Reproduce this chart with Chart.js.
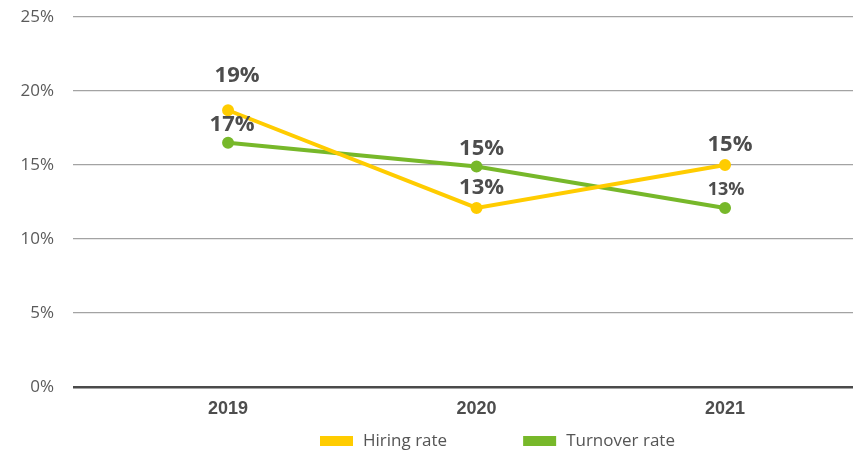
<!DOCTYPE html>
<html>
<head>
<meta charset="utf-8">
<script src="https://cdn.jsdelivr.net/npm/chart.js@4.4.1/dist/chart.umd.min.js"></script>
<style>
  html, body { margin: 0; padding: 0; background: #fff; }
</style>
</head>
<body>
<canvas id="rateChart" width="861" height="451"></canvas>
<script>
// values
const years = [2019, 2020, 2021];
const hiringRate = [18.7, 12.1, 15.0];
const turnoverRate = [16.5, 14.9, 12.1];
const hiringLabels = ['19%', '13%', '15%'];
const turnoverLabels = ['17%', '15%', '13%'];
const yTicks = [0, 5, 10, 15, 20, 25];

const TEXT = '#4d4d4d';

// value labels above each point
const pointLabels = {
    id: 'pointLabels',
    afterDatasetsDraw(chart) {
        const ctx = chart.ctx;
        ctx.save();
        ctx.fillStyle = TEXT;
        ctx.textAlign = 'center';
        ctx.textBaseline = 'middle';
        chart.data.datasets.forEach((ds, di) => {
            chart.getDatasetMeta(di).data.forEach((pt, i) => {
                ctx.font = `bold ${ds.labelSizes[i]}px "Open Sans"`;
                ctx.fillText(ds.valueLabels[i], pt.x + ds.labelDx[i], pt.y - ds.labelDy[i]);
            });
        });
        ctx.restore();
    }
};

// simple legend under the axis, off-centre like the original
const bottomLegend = {
    id: 'bottomLegend',
    afterDraw(chart) {
        const ctx = chart.ctx;
        const y = 441;
        let x = 320;
        ctx.save();
        ctx.font = '17px "Open Sans"';
        ctx.textBaseline = 'middle';
        ctx.textAlign = 'left';
        chart.data.datasets.forEach(ds => {
            ctx.fillStyle = ds.borderColor;
            ctx.fillRect(x, y - 5, 33, 10);
            ctx.fillStyle = '#555';
            ctx.fillText(ds.label, x + 43, y);
            x += 43 + ctx.measureText(ds.label).width + 76;
        });
        ctx.restore();
    }
};

const ctx = document.getElementById('rateChart').getContext('2d');
new Chart(ctx, {
    type: 'line',
    data: {
        datasets: [
            {
                label: 'Hiring rate',
                data: years.map((yr, i) => ({ x: yr, y: hiringRate[i] })),
                borderColor: '#FFCC00',
                backgroundColor: '#FFCC00',
                borderWidth: 4,
                pointRadius: 4,
                pointHoverRadius: 4,
                tension: 0,
                valueLabels: hiringLabels,
                labelSizes: [22, 22, 22],
                labelDx: [9, 5, 5],
                labelDy: [35, 20, 20],
            },
            {
                label: 'Turnover rate',
                data: years.map((yr, i) => ({ x: yr, y: turnoverRate[i] })),
                borderColor: '#77B82A',
                backgroundColor: '#77B82A',
                borderWidth: 4,
                pointRadius: 4,
                pointHoverRadius: 4,
                tension: 0,
                valueLabels: turnoverLabels,
                labelSizes: [22, 22, 18],
                labelDx: [4, 5, 1],
                labelDy: [18, 18, 18],
            },
        ],
    },
    options: {
        responsive: false,
        animation: false,
        layout: { padding: { top: 17, right: -1, bottom: 24, left: 0 } },
        plugins: {
            legend: { display: false },
            tooltip: { enabled: false },
        },
        scales: {
            x: {
                type: 'linear',
                min: 2018.376,
                max: 2021.515,
                afterBuildTicks: scale => {
                    scale.ticks = years.map(v => ({ value: v }));
                },
                afterFit: scale => {
                    scale.height = 40;
                    scale.paddingLeft = 0;
                    scale.paddingRight = 0;
                },
                grid: { display: false, drawTicks: false },
                border: { display: false },
                ticks: {
                    padding: 11,
                    color: TEXT,
                    font: { family: '"Liberation Sans"', size: 18, weight: 'bold' },
                    callback: v => String(v),
                },
            },
            y: {
                min: 0,
                max: 25,
                afterBuildTicks: scale => {
                    scale.ticks = yTicks.map(v => ({ value: v }));
                },
                afterFit: scale => {
                    scale.width = 73;
                    scale.paddingTop = 0;
                    scale.paddingBottom = 0;
                },
                border: { display: false },
                grid: {
                    drawTicks: false,
                    color: c => (c.tick && c.tick.value === 0 ? '#4a4a4a' : '#a3a3a3'),
                    lineWidth: c => (c.tick && c.tick.value === 0 ? 2.5 : 1.3),
                },
                ticks: {
                    padding: 19,
                    color: '#5a5a5a',
                    font: { family: '"Open Sans"', size: 17 },
                    callback: v => v + '%',
                },
            },
        },
    },
    plugins: [pointLabels, bottomLegend],
});
</script>
</body>
</html>
